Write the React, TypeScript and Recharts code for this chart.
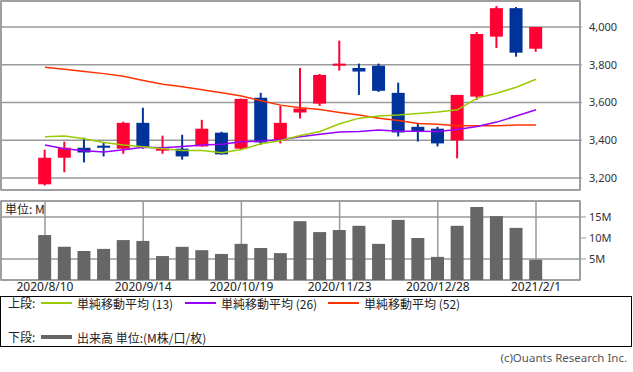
import React from "react";
import {
  ComposedChart,
  Bar,
  Line,
  XAxis,
  YAxis,
  CartesianGrid,
  ReferenceArea,
} from "recharts";

// weekly candles, 2020/8/10 - 2021/2/1
const dates = [
  "2020/8/10", "2020/8/17", "2020/8/24", "2020/8/31", "2020/9/7",
  "2020/9/14", "2020/9/21", "2020/9/28", "2020/10/5", "2020/10/12",
  "2020/10/19", "2020/10/26", "2020/11/2", "2020/11/9", "2020/11/16",
  "2020/11/23", "2020/11/30", "2020/12/7", "2020/12/14", "2020/12/21",
  "2020/12/28", "2021/1/4", "2021/1/11", "2021/1/18", "2021/1/25",
  "2021/2/1",
];
const opens = [
  3166, 3307, 3360, 3371, 3355, 3492, 3346, 3355, 3367, 3440,
  3355, 3625, 3399, 3547, 3594, 3795, 3783, 3795, 3651, 3471,
  3461, 3399, 3631, 3949, 4100, 3885,
];
const highs = [
  3350, 3392, 3413, 3387, 3498, 3572, 3424, 3429, 3508, 3445,
  3620, 3651, 3582, 3783, 3751, 3928, 3806, 3806, 3705, 3492,
  3471, 3640, 3974, 4111, 4106, 4000,
];
const lows = [
  3160, 3230, 3282, 3314, 3328, 3355, 3328, 3297, 3365, 3323,
  3352, 3376, 3383, 3515, 3582, 3769, 3640, 3656, 3420, 3393,
  3367, 3304, 3614, 3889, 3843, 3869,
];
const closes = [
  3307, 3360, 3335, 3360, 3492, 3365, 3355, 3314, 3461, 3325,
  3619, 3388, 3492, 3568, 3746, 3806, 3764, 3662, 3441, 3446,
  3383, 3640, 3963, 4100, 3864, 4000,
];
const ma13 = [
  3418, 3422, 3408, 3388, 3374, 3365, 3355, 3346, 3346, 3334,
  3351, 3381, 3399, 3425, 3446, 3487, 3517, 3528, 3533, 3542,
  3549, 3561, 3623, 3649, 3681, 3723,
];
const ma26 = [
  3374, 3355, 3344, 3337, 3350, 3362, 3360, 3367, 3374, 3378,
  3392, 3396, 3402, 3418, 3432, 3443, 3446, 3454, 3448, 3448,
  3446, 3457, 3473, 3496, 3528, 3561,
];
const ma52 = [
  3787, 3776, 3764, 3753, 3739, 3716, 3697, 3683, 3668, 3651,
  3634, 3609, 3586, 3572, 3563, 3547, 3533, 3517, 3505, 3489,
  3485, 3476, 3476, 3476, 3480, 3480,
];
const volumes = [
  10.7, 7.9, 6.9, 7.4, 9.5, 9.3, 5.7, 7.9, 7.1, 6.2,
  8.6, 7.6, 6.4, 14.0, 11.4, 11.9, 12.9, 8.6, 14.3, 10.0,
  5.5, 12.9, 17.4, 15.2, 12.4, 4.8,
];
const xTicks = [0, 5, 10, 15, 20, 25];
const priceTicks = [3200, 3400, 3600, 3800, 4000];
const volTicks = [5, 10, 15];

const UP = "#ff0033";
const DOWN = "#003399";
const GRID = "#999999";
const X_DOMAIN = [-2.24, 27.24];
const PRICE_DOMAIN = [3136, 4138];
const VOL_DOMAIN = [0, 18.8];

const data = dates.map((d, i) => ({
  i,
  date: d,
  open: opens[i],
  high: highs[i],
  low: lows[i],
  close: closes[i],
  range: [lows[i], highs[i]],
  ma13: ma13[i],
  ma26: ma26[i],
  ma52: ma52[i],
  vol: volumes[i],
}));

function Candle(props: any) {
  const { x, y, width, height, payload } = props;
  if (!payload) return null;
  const { open, close, high, low } = payload;
  const top0 = Math.min(y, y + height);
  const h = Math.abs(height);
  const k = h / (high - low);
  const bodyTop = top0 + (high - Math.max(open, close)) * k;
  const bodyBot = top0 + (high - Math.min(open, close)) * k;
  const color = close >= open ? UP : DOWN;
  const cx = x + width / 2;
  return (
    <g>
      <line x1={cx} x2={cx} y1={top0} y2={top0 + h} stroke={color} strokeWidth={2} />
      <rect
        x={x}
        y={bodyTop}
        width={width}
        height={Math.max(bodyBot - bodyTop, 2)}
        fill={color}
      />
    </g>
  );
}

const tickStyle = { fontSize: 11, fill: "#333" };

export default function App() {
  return (
    <div
      style={{
        position: "absolute",
        left: 0,
        top: 0,
        width: 633,
        height: 372,
        background: "#fff",
        fontFamily: "'Noto Sans', 'Noto Sans CJK JP', sans-serif",
      }}
    >
      <div style={{ position: "absolute", left: 0, top: 0 }}>
        <ComposedChart
          width={633}
          height={191}
          data={data}
          margin={{ top: 1, right: 0, left: 1, bottom: 1 }}
        >
          <CartesianGrid stroke={GRID} strokeWidth={1.5} />
          <XAxis
            dataKey="i"
            type="number"
            domain={X_DOMAIN}
            ticks={xTicks}
            height={0}
            tick={false}
            axisLine={false}
            tickLine={false}
          />
          <YAxis
            orientation="right"
            domain={PRICE_DOMAIN}
            ticks={priceTicks}
            width={53}
            axisLine={false}
            tickLine={{ stroke: GRID }}
            tickSize={2}
            tickMargin={7}
            tick={tickStyle}
            tickFormatter={(v: number) => v.toLocaleString("en-US")}
          />
          <ReferenceArea
            x1={X_DOMAIN[0]}
            x2={X_DOMAIN[1]}
            y1={PRICE_DOMAIN[0]}
            y2={PRICE_DOMAIN[1]}
            fill="none"
            stroke={GRID}
            strokeWidth={1.5}
            ifOverflow="visible"
          />
          <Bar dataKey="range" barSize={13} shape={Candle} isAnimationActive={false} />
          <Line dataKey="ma52" stroke="#ff3300" strokeWidth={1.5} dot={false} isAnimationActive={false} />
          <Line dataKey="ma26" stroke="#9900ff" strokeWidth={1.5} dot={false} isAnimationActive={false} />
          <Line dataKey="ma13" stroke="#99cc00" strokeWidth={1.5} dot={false} isAnimationActive={false} />
        </ComposedChart>
      </div>

      <div style={{ position: "absolute", left: 0, top: 200 }}>
        <ComposedChart
          width={633}
          height={94}
          data={data}
          margin={{ top: 1, right: 0, left: 1, bottom: 0 }}
        >
          <CartesianGrid stroke={GRID} strokeWidth={1.5} />
          <XAxis
            dataKey="i"
            type="number"
            domain={X_DOMAIN}
            ticks={xTicks}
            height={14}
            axisLine={false}
            tickLine={false}
            tickSize={0}
            tickMargin={2}
            tick={{ fontSize: 12, fill: "#222" }}
            tickFormatter={(v: number) => dates[v] ?? ""}
          />
          <YAxis
            orientation="right"
            domain={VOL_DOMAIN}
            ticks={volTicks}
            width={53}
            axisLine={false}
            tickLine={{ stroke: GRID }}
            tickSize={6}
            tickMargin={3}
            tick={tickStyle}
            tickFormatter={(v: number) => `${v}M`}
          />
          <ReferenceArea
            x1={X_DOMAIN[0]}
            x2={X_DOMAIN[1]}
            y1={VOL_DOMAIN[0]}
            y2={VOL_DOMAIN[1]}
            fill="none"
            stroke={GRID}
            strokeWidth={1.5}
            ifOverflow="visible"
          />
          <Bar dataKey="vol" barSize={13} fill="#666666" isAnimationActive={false} />
        </ComposedChart>
      </div>

      <div
        style={{
          position: "absolute",
          left: 5,
          top: 201,
          fontSize: 12,
          color: "#222",
          fontFamily: "'Noto Sans CJK JP', sans-serif",
          lineHeight: "16px",
        }}
      >
        単位: M
      </div>

      <div
        style={{
          position: "absolute",
          left: 0,
          top: 296,
          width: 632,
          height: 51,
          boxSizing: "border-box",
          border: "1px solid #000",
          fontSize: 12,
          color: "#222",
          fontFamily: "'Noto Sans CJK JP', sans-serif",
        }}
      >
        <div style={{ position: "absolute", left: 7, top: -3, lineHeight: "18px", whiteSpace: "nowrap" }}>
          上段:
        </div>
        <LegendItem left={40} top={-3} color="#99cc00" thick={1.5} label="単純移動平均 (13)" />
        <LegendItem left={184} top={-3} color="#9900ff" thick={1.5} label="単純移動平均 (26)" />
        <LegendItem left={327} top={-3} color="#ff3300" thick={1.5} label="単純移動平均 (52)" />
        <div style={{ position: "absolute", left: 7, top: 31, lineHeight: "18px", whiteSpace: "nowrap" }}>
          下段:
        </div>
        <LegendItem left={40} top={31} color="#666666" thick={4} label="出来高 単位:(M株/口/枚)" />
      </div>

      <div
        style={{
          position: "absolute",
          right: 6,
          top: 350,
          fontSize: 11.5,
          color: "#555",
          fontFamily: "'Noto Sans', sans-serif",
          lineHeight: "16px",
        }}
      >
        (c)Ouants Research Inc.
      </div>
    </div>
  );
}

function LegendItem({ left, top, color, thick, label }: any) {
  return (
    <div
      style={{
        position: "absolute",
        left,
        top,
        display: "flex",
        alignItems: "center",
        height: 18,
        whiteSpace: "nowrap",
      }}
    >
      <span style={{ display: "inline-block", width: 31, height: thick, background: color, marginRight: 5 }} />
      <span>{label}</span>
    </div>
  );
}
